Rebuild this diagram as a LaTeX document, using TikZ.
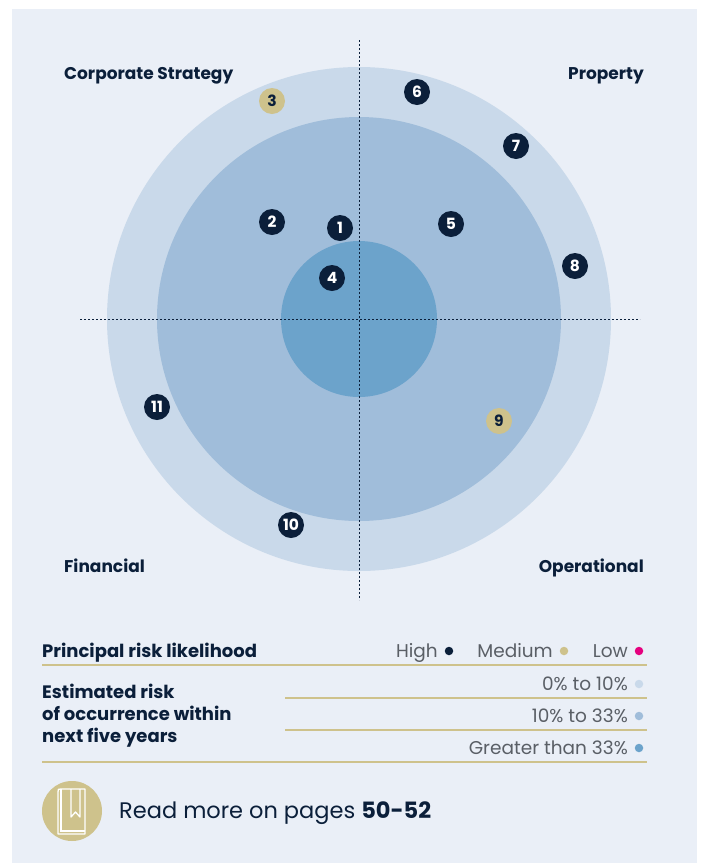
\documentclass[tikz,border=0pt]{standalone}
\usepackage{fontspec}
\setmainfont{Poppins}
\usetikzlibrary{calc}
\definecolor{panel}{HTML}{EAEFF7}
\definecolor{ringA}{HTML}{C9D9EA}
\definecolor{ringB}{HTML}{A0BDDA}
\definecolor{ringC}{HTML}{6CA3CB}
\definecolor{navy}{HTML}{0B1F3A}
\definecolor{gold}{HTML}{CEC28C}
\definecolor{pinkL}{HTML}{E5007E}
\definecolor{greyT}{HTML}{5A5F66}
\begin{document}
\begin{tikzpicture}[x=1pt,y=-1pt,
  high/.style={circle,fill=navy,text=white,minimum size=26pt,inner sep=0pt,font=\fontsize{15.5}{15.5}\selectfont\bfseries},
  med/.style={circle,fill=gold,text=navy,minimum size=26pt,inner sep=0pt,font=\fontsize{15.5}{15.5}\selectfont\bfseries},
  quad/.style={text=navy,font=\fontsize{17}{17}\selectfont\bfseries,inner sep=0pt},
  leg/.style={text=greyT,font=\fontsize{18.5}{18.5}\selectfont,inner sep=0pt,anchor=base east},
  legdot/.style={circle,minimum size=8.5pt,inner sep=0pt},
  goldrule/.style={draw=gold,line width=1.2pt},
  axis/.style={draw=navy,dash pattern=on 2pt off 2pt,line width=0.7pt}]
\useasboundingbox (0,0) rectangle (704,863);
\fill[white] (0,0) rectangle (704,863);
\fill[panel] (12,9) rectangle (697,863);
% rings
\coordinate (c) at (359,319);
\fill[ringA] (c) circle[radius=252];
\fill[ringB] (c) circle[radius=202];
\fill[ringC] (c) circle[radius=78];
% axes
\coordinate (vt) at (359,40);
\coordinate (vb) at (359,600);
\coordinate (hl) at (80,319);
\coordinate (hr) at (640,319);
\draw[axis] (vt) -- (vb);
\draw[axis] (hl) -- (hr);
% quadrant labels
\node[quad,anchor=base west] (cs) at (64,79) {Corporate Strategy};
\node[quad,anchor=base east] (pr) at (644,79) {Property};
\node[quad,anchor=base west] (fi) at (64,572) {Financial};
\node[quad,anchor=base east] (op) at (644,572) {Operational};
% risks
\node[high] (r1) at (340,228) {1};
\node[high] (r2) at (272,222) {2};
\node[med]  (r3) at (272,101) {3};
\node[high] (r4) at (332,278) {4};
\node[high] (r5) at (451,224) {5};
\node[high] (r6) at (417,92) {6};
\node[high] (r7) at (516,146) {7};
\node[high] (r8) at (575,266) {8};
\node[med]  (r9) at (499,421) {9};
\node[high] (r10) at (291,525) {10};
\node[high] (r11) at (157,407) {11};
% legend
\node[quad,anchor=base west,font=\fontsize{18}{18}\selectfont\bfseries] (plk) at (42,657.5) {Principal risk likelihood};
\node[legdot,fill=pinkL] (dlow) at (639,651) {};
\node[leg] (tlow) at (628,657.5) {Low};
\node[legdot,fill=gold] (dmed) at (564,651) {};
\node[leg] (tmed) at (553,657.5) {Medium};
\node[legdot,fill=navy] (dhigh) at (449,651) {};
\node[leg] (thigh) at (438,657.5) {High};
\coordinate (l1a) at (42,665); \coordinate (l1b) at (647,665);
\draw[goldrule] (l1a) -- (l1b);
\node[quad,anchor=base west,align=left,font=\fontsize{18}{22}\selectfont\bfseries] (est) at (42,742.5) {Estimated risk\\of occurrence within\\next five years};
\node[legdot,fill=ringA] (d1) at (639,684) {};
\node[leg] (t1) at (628,690.5) {0\% to 10\%};
\coordinate (l2a) at (285,698); \coordinate (l2b) at (647,698);
\draw[goldrule] (l2a) -- (l2b);
\node[legdot,fill=ringB] (d2) at (639,716) {};
\node[leg] (t2) at (628,722.5) {10\% to 33\%};
\coordinate (l3a) at (285,730); \coordinate (l3b) at (647,730);
\draw[goldrule] (l3a) -- (l3b);
\node[legdot,fill=ringC] (d3) at (639,748) {};
\node[leg] (t3) at (628,754.5) {Greater than 33\%};
\coordinate (l4a) at (42,762); \coordinate (l4b) at (647,762);
\draw[goldrule] (l4a) -- (l4b);
% book icon
\node[circle,fill=gold,minimum size=60pt,inner sep=0pt] (book) at (72,811) {};
\draw[white,line width=1.3pt,line join=round] (58,792) -- (58,834) -- (85,834) -- (85,789) -- (61,789) .. controls (58,789) .. (58,792);
\draw[white,line width=1.3pt] (61,789) -- (61,831) -- (85,831);
\draw[white,line width=1.3pt,line join=round] (71,789) -- (71,817) -- (75.5,812) -- (80,817) -- (80,789);
\node[anchor=base west,text=navy,inner sep=0pt,font=\fontsize{22.5}{22.5}\selectfont] (more) at (119,818) {Read more on pages \textbf{50-52}};
\end{tikzpicture}
\end{document}
